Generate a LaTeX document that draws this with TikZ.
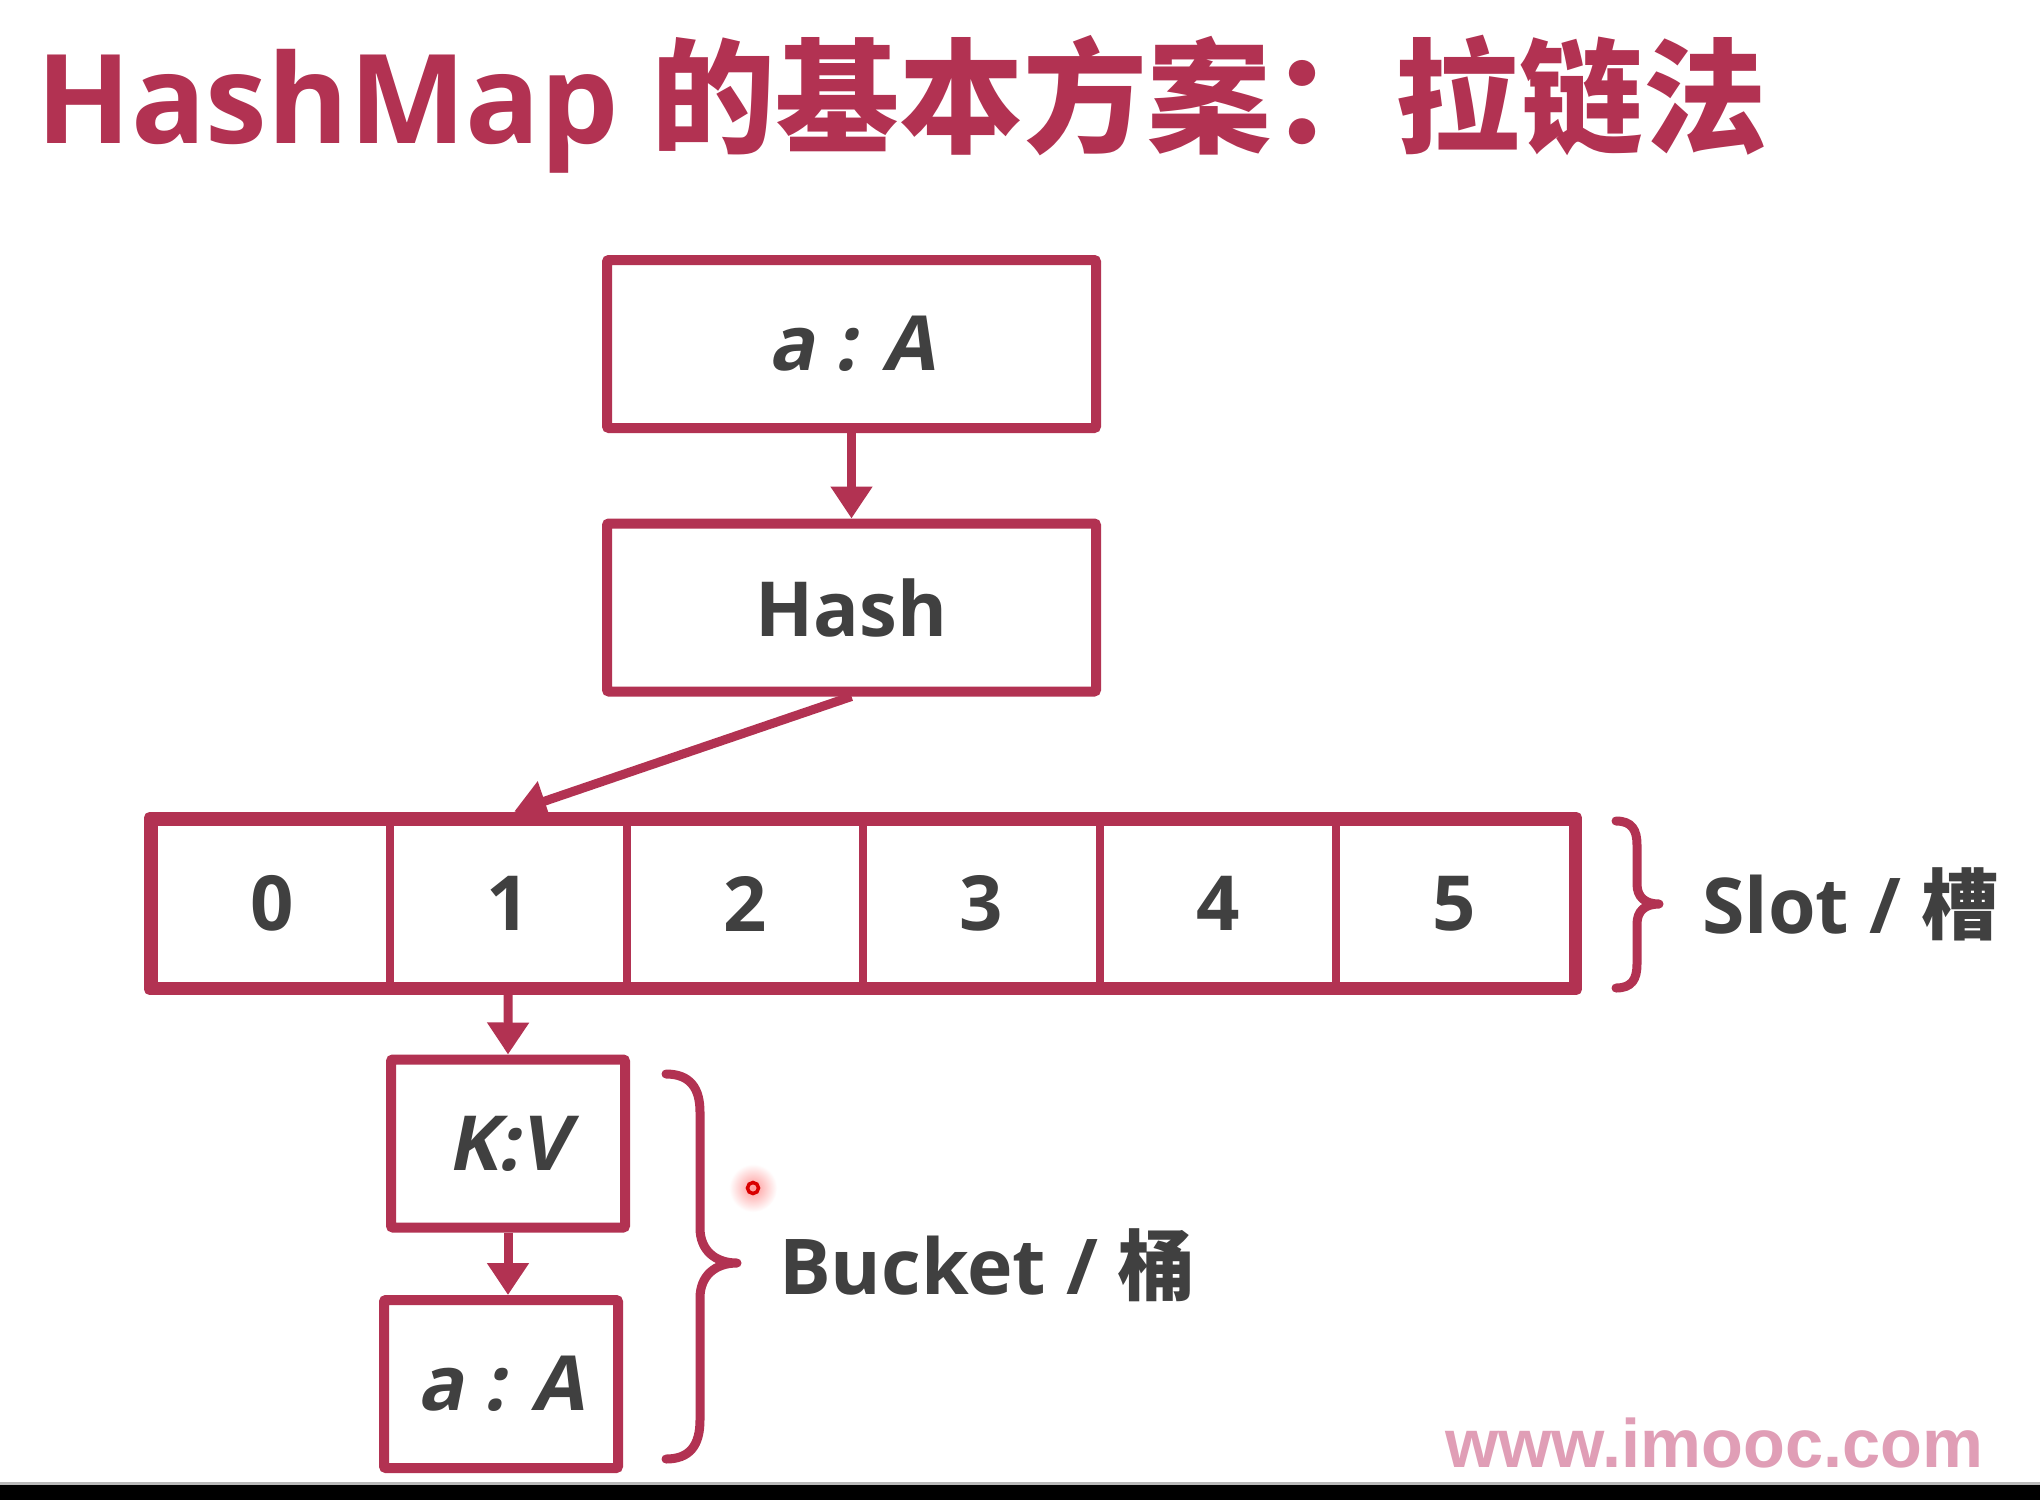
\documentclass[tikz,border=0pt]{standalone}
\usepackage{fontspec}
\setmainfont{Open Sans}
\newfontfamily\cjk{Noto Sans CJK SC}
\newfontfamily\slanted{Open Sans}[FakeSlant=0.2]
\usetikzlibrary{arrows.meta}
\definecolor{crim}{RGB}{178,50,82}
\definecolor{ink}{RGB}{64,64,64}
\definecolor{wmark}{RGB}{224,158,182}

\begin{document}
\begin{tikzpicture}[x=1pt,y=-1pt,
  txt/.style={text=ink, font=\bfseries\fontsize{76}{90}\selectfont},
  itxt/.style={text=ink, font=\slanted\bfseries\fontsize{76}{90}\selectfont},
  box/.style={draw=crim, line width=10pt, rounded corners=2pt, inner sep=0pt},
  bigbox/.style={box, minimum width=489pt, minimum height=168pt},
  smallbox/.style={box, minimum width=234pt, minimum height=168pt},
  cell/.style={draw=crim, line width=8pt, minimum width=236.5pt, minimum height=164pt, inner sep=0pt, txt},
  link/.style={draw=crim, line width=9pt, -{Triangle[length=32pt,width=40pt]}},
  bracepath/.style={draw=crim, line width=9pt, line cap=round, line join=round},
  label/.style={anchor=base west, inner sep=0pt, text=ink, font=\bfseries\fontsize{77}{90}\selectfont}
]
\useasboundingbox (0,0) rectangle (2040,1500);
\fill[white] (0,0) rectangle (2040,1500);

% heading
\node[anchor=base west, inner sep=0pt, text=crim, font=\bfseries\fontsize{124}{136}\selectfont]
  (title) at (36,143) {HashMap {\cjk 的基本方案：拉链法}};

% entry and hash function
\node[bigbox, itxt] (entry) at (851.5,344) {a : A};
\node[bigbox, txt] (hash) at (851.5,607.5) {Hash};

% slot array
\foreach \i in {0,...,5}
  \node[cell] (s\i) at ({153.5+236.5*(\i+0.5)},903.5) {\i};
\draw[crim, line width=11pt, line join=round] (s0.north west) rectangle (s5.south east);

% bucket chain
\node[smallbox, itxt] (kv) at (508,1143.5) {K:V};
\node[smallbox, itxt] (aa) at (501,1384) {a : A};

% connectors
\draw[link] (entry.south) -- (hash.north);
\draw[link] (hash.south) -- ([xshift=6pt,yshift=6pt]s1.north);
\draw[link] (s1.south) -- (kv.north);
\draw[link] (kv.south) -- (kv.south |- aa.north);

% braces
\draw[bracepath] (1616,821) .. controls (1632,821) and (1637,830) .. (1637,845)
  -- (1637,884) .. controls (1637,897) and (1645,904) .. (1659,904)
  .. controls (1645,904) and (1637,911) .. (1637,924)
  -- (1637,964) .. controls (1637,979) and (1632,988) .. (1616,988);
\node[label] (slotlbl) at (1702,933) {Slot / {\cjk 槽}};

\draw[bracepath] (666,1074) .. controls (690,1074) and (700,1088) .. (700,1112)
  -- (700,1228) .. controls (700,1250) and (715,1263) .. (737,1263)
  .. controls (715,1263) and (700,1276) .. (700,1298)
  -- (700,1420) .. controls (700,1445) and (690,1459) .. (666,1459);
\node[label] (bucketlbl) at (779,1294) {Bucket / {\cjk 桶}};

% pointer mark
\shade[inner color=red!40, outer color=white] (753,1188) circle (24);
\draw[red!85!black, line width=3.5pt] (753,1188) circle (5.5);

% watermark
\node[anchor=base west, inner sep=0pt, text=wmark, font=\fontspec{Liberation Sans}\bfseries\fontsize{68.5}{72}\selectfont]
  (wm) at (1445,1467) {www.imooc.com};

% bottom band
\fill[gray!55] (0,1482) rectangle (2040,1485);
\fill[black] (0,1485) rectangle (2040,1500);
\end{tikzpicture}
\end{document}
